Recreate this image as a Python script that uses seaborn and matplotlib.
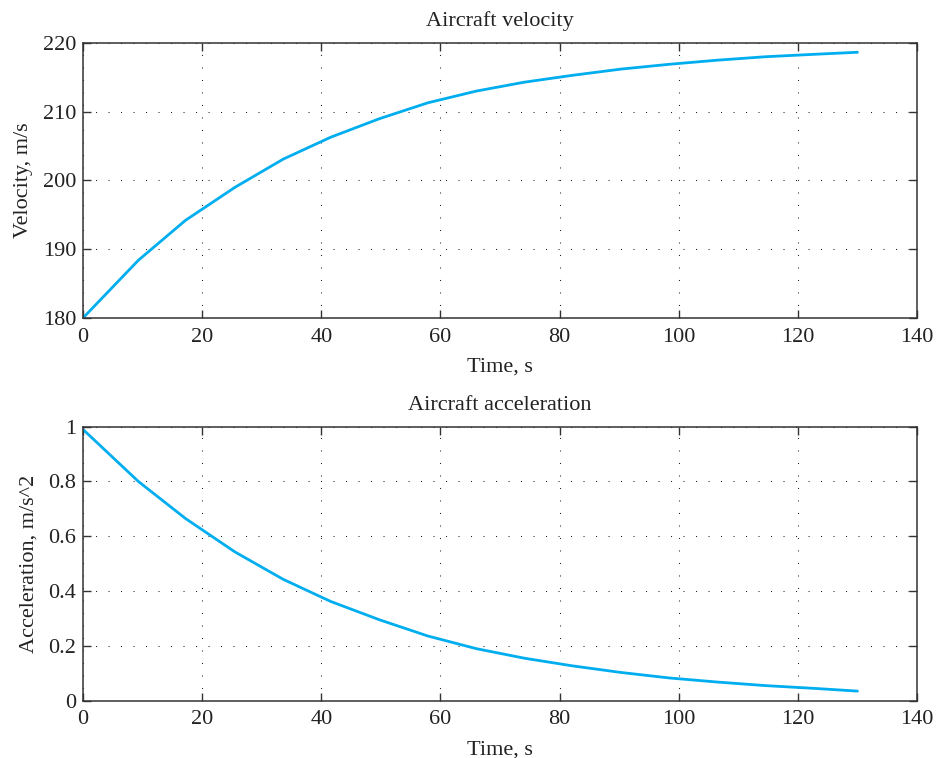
import matplotlib
matplotlib.use("Agg")
import matplotlib.pyplot as plt
import seaborn as sns
import pandas as pd

# ---- data ----
time_s = [0, 9.3, 17.2, 25.5, 33.6, 41.6, 49.8, 57.9, 66.0, 74.1, 82.2,
          90.3, 98.4, 106.5, 114.6, 122.7, 130.0]
velocity = [180.0, 188.4, 194.2, 199.0, 203.1, 206.3, 209.0, 211.3, 213.0,
            214.3, 215.3, 216.2, 216.9, 217.5, 218.0, 218.35, 218.65]
acceleration = [0.99, 0.80, 0.665, 0.543, 0.443, 0.362, 0.295, 0.236, 0.19,
                0.155, 0.127, 0.103, 0.083, 0.068, 0.055, 0.045, 0.035]

x_ticks = [0, 20, 40, 60, 80, 100, 120, 140]
x_ticklabels = ["0", "20", "40", "60", "80", "100", "120", "140"]
v_ticks = [180, 190, 200, 210, 220]
v_ticklabels = ["180", "190", "200", "210", "220"]
a_ticks = [0, 0.2, 0.4, 0.6, 0.8, 1.0]
a_ticklabels = ["0", "0.2", "0.4", "0.6", "0.8", "1"]

df = pd.DataFrame({"t": time_s, "v": velocity, "a": acceleration})

sns.set_style("ticks")
plt.rcParams["font.family"] = ["Liberation Serif", "DejaVu Serif"]
plt.rcParams["font.size"] = 16

LINE = "#00aeef"
SPINE = "#333333"
TEXT = "#222222"
FS = 16

fig = plt.figure(figsize=(9.42, 7.58), dpi=100)
ax1 = fig.add_axes([0.0881, 0.5805, 0.8854, 0.3628])
ax2 = fig.add_axes([0.0881, 0.0756, 0.8854, 0.3615])


def style(ax, yticks, yticklabels, ylim, title, ylabel):
    ax.set_xlim(0, 140)
    ax.set_ylim(*ylim)
    ax.set_xticks(x_ticks)
    ax.set_xticklabels(x_ticklabels)
    ax.set_yticks(yticks)
    ax.set_yticklabels(yticklabels)
    ax.tick_params(direction="in", length=6, width=1, colors=SPINE,
                   top=True, right=True, labelsize=FS, labelcolor=TEXT)
    ax.tick_params(axis="x", pad=7)
    ax.tick_params(axis="y", pad=5)
    for s in ax.spines.values():
        s.set_visible(True)
        s.set_linewidth(1.1)
        s.set_color(SPINE)
    ax.grid(True, color=TEXT, linewidth=0.75, linestyle=(0, (1, 11)))
    ax.set_axisbelow(True)
    ax.set_title(title, fontsize=FS, pad=12, color=TEXT)
    ax.set_xlabel("Time, s", fontsize=FS, labelpad=8, color=TEXT)
    ax.set_ylabel(ylabel, fontsize=FS, labelpad=7, color=TEXT)


sns.lineplot(data=df, x="t", y="v", ax=ax1, color=LINE, linewidth=2.0)
style(ax1, v_ticks, v_ticklabels, (180, 220), "Aircraft velocity", "Velocity, m/s")

sns.lineplot(data=df, x="t", y="a", ax=ax2, color=LINE, linewidth=2.0)
style(ax2, a_ticks, a_ticklabels, (0, 1), "Aircraft acceleration",
      "Acceleration, m/s^2")

fig.savefig("out.png", dpi=100, facecolor="white")
